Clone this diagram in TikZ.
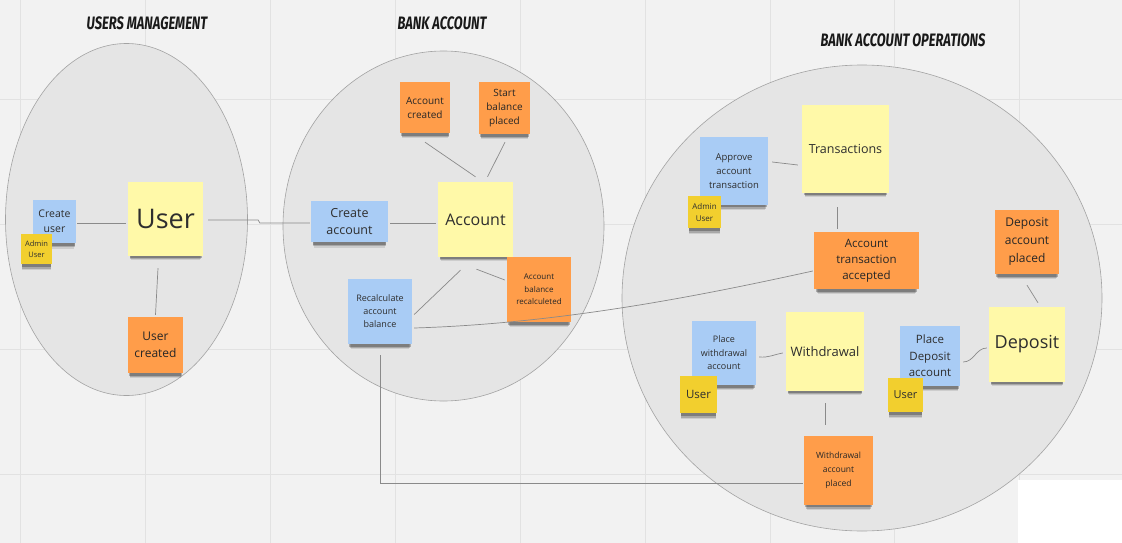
\documentclass[tikz,border=0pt]{standalone}
\usepackage{fontspec}
\setmainfont{Open Sans}
\newfontfamily\titlefont{Fira Sans}
\usetikzlibrary{shadows,calc}
\definecolor{bgc}{HTML}{F2F2F2}
\definecolor{gridc}{HTML}{E2E2E2}
\definecolor{ellc}{HTML}{E5E5E5}
\definecolor{ellb}{HTML}{A3A3A3}
\definecolor{bluec}{HTML}{A9CCF5}
\definecolor{yelc}{HTML}{FFF9A8}
\definecolor{smallyel}{HTML}{F2CF2E}
\definecolor{orc}{HTML}{FF9D4A}
\definecolor{txtc}{HTML}{2E2E2E}
\definecolor{linec}{HTML}{8A8A8A}
\tikzset{
  note/.style={inner sep=1pt, align=center, text=txtc,
    drop shadow={shadow xshift=0pt, shadow yshift=-8pt, shadow scale=0.92, opacity=0.10, fill=black},
    drop shadow={shadow xshift=0pt, shadow yshift=-6pt, shadow scale=0.94, opacity=0.18, fill=black},
    drop shadow={shadow xshift=0pt, shadow yshift=-4pt, shadow scale=0.96, opacity=0.25, fill=black}},
  bluenote/.style={note, fill=bluec},
  yelnote/.style={note, fill=yelc},
  smallnote/.style={note, fill=smallyel},
  ornote/.style={note, fill=orc, text=black!85},
  conn/.style={draw=linec, line width=0.7pt},
  zone/.style={fill=ellc, draw=ellb, line width=0.6pt},
  ttl/.style={inner sep=0pt, font=\titlefont\bfseries\itshape\fontsize{18}{18}\selectfont, text=black!90}
}
\newcommand\fz[2]{\fontsize{#1}{#2}\selectfont}
\begin{document}
\begin{tikzpicture}[x=1pt,y=-1pt]
\useasboundingbox (0,0) rectangle (1122,543);
\fill[bgc] (0,0) rectangle (1122,543);
% grid
\foreach \gx in {20,145,270,395,520,645,770,894,1019}
  \draw[gridc, line width=0.8pt] (\gx,0) -- (\gx,543);
\foreach \gy in {99,224,349,474}
  \draw[gridc, line width=0.8pt] (0,\gy) -- (1122,\gy);
\fill[white] (1018,480) rectangle (1122,543);

% zones
\draw[zone] (126.5,219.5) ellipse [x radius=121, y radius=176];
\draw[zone] (443.5,226) ellipse [x radius=160.5, y radius=175];
\draw[zone] (862,298) ellipse [x radius=240, y radius=233];

% titles
\node[ttl] (t1) at (147,23) {\scalebox{0.72}[1]{USERS MANAGEMENT}};
\node[ttl] (t2) at (442,23) {\scalebox{0.72}[1]{BANK ACCOUNT}};
\node[ttl] (t3) at (903,40) {\scalebox{0.72}[1]{BANK ACCOUNT OPERATIONS}};

% users management
\node[bluenote, minimum width=43pt, minimum height=43pt, font=\fz{10.5}{15}] (cu) at (54.5,221.5) {Create\\user};
\node[smallnote, minimum width=31pt, minimum height=30pt, font=\fz{7.5}{11}] (au1) at (36.5,249) {Admin\\User};
\node[yelnote, minimum width=75pt, minimum height=74pt, font=\fz{27}{30}] (user) at (165.5,219) {User};
\node[ornote, minimum width=55pt, minimum height=56pt, font=\fz{12}{17}] (uc) at (155.5,345) {User\\created};

% bank account
\node[ornote, minimum width=50pt, minimum height=51pt, font=\fz{10}{14}] (ac) at (425,107.5) {Account\\created};
\node[ornote, minimum width=51pt, minimum height=52pt, font=\fz{10}{14}] (sbp) at (504.5,108) {Start\\balance\\placed};
\node[yelnote, minimum width=75pt, minimum height=75pt, font=\fz{16}{20}] (acc) at (475.5,219.5) {Account};
\node[bluenote, minimum width=77pt, minimum height=41pt, font=\fz{12.5}{17}] (ca) at (349.5,221.5) {Create\\account};
\node[bluenote, minimum width=64pt, minimum height=65pt, font=\fz{9}{13}] (rab) at (380,311.5) {Recalculate\\account\\balance};
\node[ornote, minimum width=64pt, minimum height=65pt, font=\fz{8}{12.5}] (abr) at (539,289.5) {Account\\balance\\recalculeted};

% operations
\node[yelnote, minimum width=87pt, minimum height=88pt, font=\fz{12.5}{16}] (tr) at (845.5,149) {Transactions};
\node[bluenote, minimum width=68pt, minimum height=68pt, font=\fz{9.5}{14}] (aat) at (734,171) {Approve\\account\\transaction};
\node[smallnote, minimum width=33pt, minimum height=32pt, font=\fz{8}{12}] (au2) at (704.5,212) {Admin\\User};
\node[ornote, minimum width=105pt, minimum height=57pt, font=\fz{11.5}{16}] (ata) at (866.5,260.5) {Account\\transaction\\accepted};
\node[ornote, minimum width=64pt, minimum height=64pt, font=\fz{12}{18}] (dap) at (1027,242) {Deposit\\account\\placed};
\node[yelnote, minimum width=76pt, minimum height=75pt, font=\fz{18}{22}] (dep) at (1027,344.5) {Deposit};
\node[bluenote, minimum width=60pt, minimum height=60pt, font=\fz{11.5}{16.5}] (pda) at (930,356) {Place\\Deposit\\account};
\node[smallnote, minimum width=35pt, minimum height=34pt, font=\fz{11}{14}] (u3) at (905.5,395) {User};
\node[bluenote, minimum width=64pt, minimum height=64pt, font=\fz{9}{13.5}] (pwa) at (724,353) {Place\\withdrawal\\account};
\node[smallnote, minimum width=37pt, minimum height=37pt, font=\fz{11.5}{14}] (u2) at (698.5,394.5) {User};
\node[yelnote, minimum width=78pt, minimum height=79pt, font=\fz{13}{16}] (wd) at (825,351.5) {Withdrawal};
\node[ornote, minimum width=69pt, minimum height=69pt, font=\fz{8.5}{14}] (wap) at (838.5,470.5) {Withdrawal\\account\\placed};

% connectors
\draw[conn] ($(cu.east)+(1,1.5)$) -- ($(user.west)+(-2,4)$);
\draw[conn] ($(user.south)+(-7.5,12)$) -- ($(uc.north)+(0,-2)$);
\draw[conn] ($(user.east)+(5,1)$) -- ($(user.east)+(55,1)$) -- ($(ca.west)+(-51,1.5)$) -- ($(ca.west)+(-1,1.5)$);
\draw[conn] ($(ac.south)+(0,9)$) -- ($(acc.north)+(0,-5)$);
\draw[conn] ($(sbp.south)+(0.5,8)$) -- ($(acc.north)+(12,-5)$);
\draw[conn] ($(ca.east)+(2,2)$) -- ($(acc.west)+(-2,4)$);
\draw[conn] ($(acc.south)+(-15,13)$) -- ($(rab.east)+(2,3)$);
\draw[conn] ($(acc.south)+(1,12)$) -- ($(abr.west)+(-2,-9.5)$);
\draw[conn] ($(rab.east)+(2,16.5)$) .. controls ($(rab.east)+(150,12)$) and ($(ata.west)+(-110,34.5)$) .. ($(ata.west)+(-1,10.5)$);
\draw[conn] ($(rab.south)+(0,11)$) |- ($(wap.west)+(-1,12.5)$);
\draw[conn] ($(aat.east)+(4,-9)$) -- ($(tr.west)+(-4,16)$);
\draw[conn] ($(tr.south)+(-8.5,14)$) -- ($(ata.north)+(-29.5,-3)$);
\draw[conn] ($(dap.south)+(0,11)$) -- ($(dep.north)+(11,-4)$);
\draw[conn] ($(pda.east)+(3,6)$) to[out=0,in=180] ($(dep.west)+(-2,3.5)$);
\draw[conn] ($(pwa.east)+(3,4)$) to[out=-5,in=190] ($(wd.west)+(-3,1.5)$);
\draw[conn] ($(wd.south)+(0,12)$) -- ($(wap.north)+(-13.5,-11)$);
\end{tikzpicture}
\end{document}
